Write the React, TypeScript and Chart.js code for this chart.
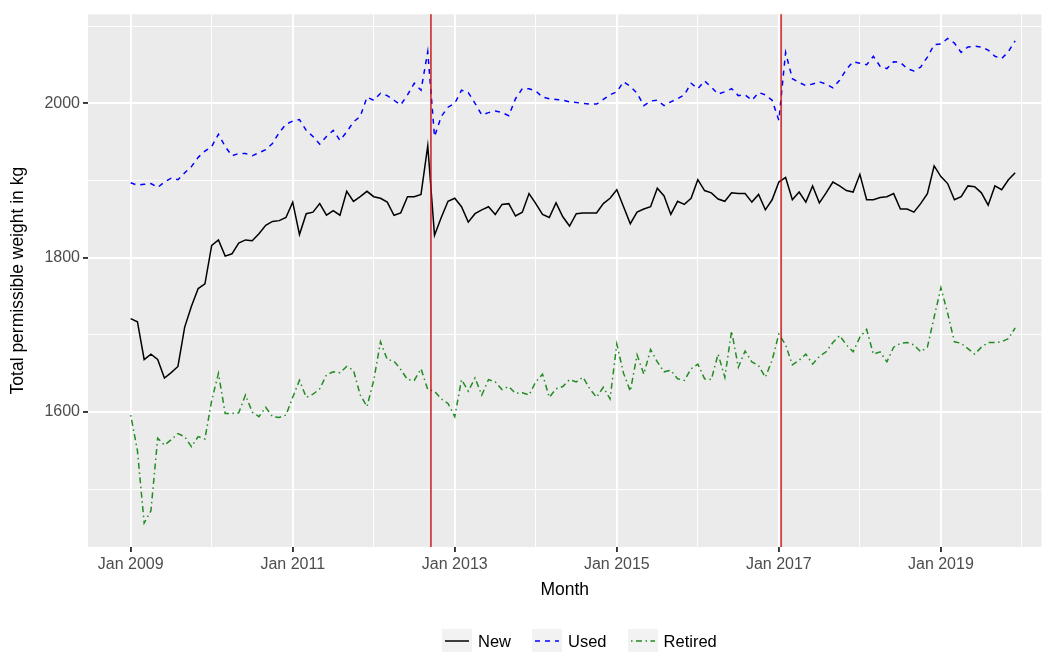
import React, { useEffect, useRef } from "react";
import { Chart, registerables } from "chart.js";

Chart.register(...registerables);

// Months since Jan 2009 (0 = Jan 2009, 131 = Dec 2019)
const NEW = [
  1721, 1717, 1668, 1675, 1668, 1644, 1651, 1659, 1710, 1737, 1760, 1766,
  1816, 1823, 1802, 1805, 1819, 1823, 1822, 1831, 1842, 1847, 1848, 1852,
  1872, 1830, 1857, 1859, 1870, 1855, 1861, 1855, 1886, 1873, 1879, 1886,
  1879, 1877, 1872, 1855, 1858, 1879, 1879, 1882, 1945, 1829, 1852, 1873,
  1877, 1866, 1846, 1857, 1862, 1866, 1856, 1869, 1870, 1854, 1859, 1883,
  1870, 1856, 1852, 1871, 1853, 1841, 1857, 1858, 1858, 1858, 1870, 1877,
  1888, 1866, 1844, 1859, 1863, 1866, 1890, 1880, 1856, 1873, 1869, 1877,
  1901, 1887, 1884, 1876, 1873, 1884, 1883, 1883, 1872, 1882, 1862, 1875,
  1898, 1904, 1875, 1885, 1872, 1893, 1871, 1884, 1898, 1893, 1887, 1885,
  1908, 1875, 1875, 1878, 1879, 1883, 1863, 1863, 1859, 1870, 1883, 1919,
  1905, 1896, 1875, 1879, 1893, 1892, 1884, 1868, 1893, 1888, 1901, 1910,
];

const USED = [
  1897, 1894, 1895, 1896, 1891, 1898, 1903, 1901, 1910, 1918, 1930, 1938,
  1944, 1960, 1944, 1932, 1935, 1935, 1932, 1936, 1940, 1948, 1962, 1973,
  1977, 1979, 1965, 1957, 1947, 1957, 1965, 1952, 1963, 1976, 1983, 2008,
  2004, 2013, 2010, 2004, 1998, 2011, 2026, 2017, 2067, 1957, 1983, 1995,
  2000, 2017, 2014, 2000, 1985, 1988, 1990, 1988, 1984, 2006, 2019, 2019,
  2016, 2008, 2006, 2005, 2004, 2002, 2001, 2000, 1999, 1999, 2005, 2011,
  2015, 2028, 2022, 2013, 1997, 2003, 2004, 1997, 2002, 2006, 2011, 2026,
  2019, 2029, 2021, 2012, 2015, 2019, 2010, 2011, 2004, 2014, 2011, 2004,
  1978, 2066, 2032, 2027, 2023, 2025, 2028, 2025, 2020, 2030, 2044, 2054,
  2052, 2050, 2061, 2048, 2045, 2054, 2053, 2045, 2042, 2047, 2060, 2076,
  2077, 2084, 2078, 2066, 2073, 2074, 2073, 2069, 2061, 2058, 2067, 2081,
];

const RETIRED = [
  1596, 1550, 1456, 1472, 1566, 1557, 1564, 1572, 1568, 1555, 1568, 1565,
  1615, 1650, 1598, 1598, 1599, 1622, 1600, 1594, 1606, 1594, 1593, 1596,
  1619, 1641, 1619, 1623, 1630, 1648, 1652, 1651, 1659, 1654, 1622, 1607,
  1641, 1691, 1668, 1666, 1655, 1642, 1641, 1656, 1629, 1627, 1617, 1611,
  1594, 1642, 1627, 1644, 1622, 1642, 1639, 1629, 1633, 1624, 1625, 1622,
  1639, 1649, 1619, 1630, 1633, 1642, 1639, 1645, 1630, 1619, 1632, 1617,
  1688, 1650, 1627, 1674, 1649, 1681, 1665, 1652, 1654, 1643, 1641, 1656,
  1662, 1643, 1642, 1675, 1645, 1705, 1658, 1679, 1665, 1660, 1645, 1667,
  1701, 1687, 1661, 1667, 1675, 1662, 1672, 1678, 1690, 1699, 1687, 1678,
  1697, 1707, 1675, 1678, 1665, 1684, 1689, 1690, 1687, 1678, 1684, 1723,
  1761, 1728, 1691, 1689, 1682, 1675, 1684, 1690, 1690, 1691, 1695, 1709,
];

// Intervention dates, in months since Jan 2009 (mid-Sep 2012, early Jan 2017)
const INTERVENTIONS = [44.47, 96.34];

const X_TICK_LABELS = ["Jan 2009", "Jan 2011", "Jan 2013", "Jan 2015", "Jan 2017", "Jan 2019"];
const X_GRID_MONTHS = [0, 12, 24, 36, 48, 60, 72, 84, 96, 108, 120, 132];
const Y_TICK_LABELS = [1600, 1800, 2000];
const Y_GRID_VALUES = [1500, 1600, 1700, 1800, 1900, 2000, 2100];

const SERIES_NAMES = ["New", "Used", "Retired"];
const SERIES_COLORS = ["#000000", "#0000FF", "#228B22"];
const SERIES_DASH: number[][] = [[], [5, 5], [1.5, 3.5, 6, 3.5]];

const FONT = "'Liberation Sans', Arial, sans-serif";
const W = 1051;
const H = 652;

const panelPlugin = {
  id: "panelBg",
  beforeDraw(chart: any) {
    const { ctx, chartArea } = chart;
    ctx.save();
    ctx.fillStyle = "#FFFFFF";
    ctx.fillRect(0, 0, chart.width, chart.height);
    ctx.fillStyle = "#EBEBEB";
    ctx.fillRect(chartArea.left, chartArea.top, chartArea.right - chartArea.left, chartArea.bottom - chartArea.top);
    ctx.restore();
  },
};

const vlinePlugin = {
  id: "vlines",
  afterDatasetsDraw(chart: any) {
    const { ctx, chartArea, scales } = chart;
    ctx.save();
    ctx.strokeStyle = "rgba(200, 20, 20, 0.8)";
    ctx.lineWidth = 1.8;
    INTERVENTIONS.forEach((m) => {
      const x = scales.x.getPixelForValue(m);
      ctx.beginPath();
      ctx.moveTo(x, chartArea.top);
      ctx.lineTo(x, chartArea.bottom);
      ctx.stroke();
    });
    ctx.restore();
  },
};

function LegendKey({ color, dash }: { color: string; dash: number[] }) {
  return (
    <svg width={30} height={24} style={{ display: "block" }}>
      <rect x={0} y={0} width={30} height={24} fill="#F2F2F2" />
      <line x1={3} y1={12} x2={27} y2={12} stroke={color} strokeWidth={1.5}
        strokeDasharray={dash.length ? dash.join(" ") : undefined} />
    </svg>
  );
}

export default function App() {
  const canvasRef = useRef<HTMLCanvasElement | null>(null);

  useEffect(() => {
    if (!canvasRef.current) return;
    const seriesValues = [NEW, USED, RETIRED];
    const chart = new Chart(canvasRef.current, {
      type: "line",
      data: {
        datasets: seriesValues.map((vals, s) => ({
          label: SERIES_NAMES[s],
          data: vals.map((v, i) => ({ x: i, y: v })),
          borderColor: SERIES_COLORS[s],
          borderWidth: 1.5,
          borderDash: SERIES_DASH[s],
          pointRadius: 0,
          tension: 0,
          fill: false,
        })),
      },
      options: {
        animation: false,
        responsive: false,
        events: [],
        layout: { padding: { top: 14.3, right: 9.5, left: 0, bottom: 0 } },
        plugins: {
          legend: { display: false },
          tooltip: { enabled: false },
        },
        scales: {
          x: {
            type: "linear",
            min: -6.32,
            max: 134.9,
            afterBuildTicks: (scale: any) => {
              scale.ticks = X_GRID_MONTHS.map((v) => ({ value: v }));
            },
            afterFit: (scale: any) => {
              scale.height = H - 547;
            },
            ticks: {
              autoSkip: false,
              maxRotation: 0,
              color: "#4D4D4D",
              font: { family: FONT, size: 16 },
              padding: 3,
              callback: (v: any) => (Number(v) % 24 === 0 ? X_TICK_LABELS[Number(v) / 24] : ""),
            },
            grid: {
              color: "#FFFFFF",
              lineWidth: (ctx: any) => (ctx.tick && ctx.tick.value % 24 === 0 ? 1.9 : 0.95),
              tickColor: (ctx: any) => (ctx.tick && ctx.tick.value % 24 === 0 ? "#333333" : "rgba(0,0,0,0)"),
              tickWidth: 1.9,
              tickLength: 5,
            },
            border: { display: false },
            title: {
              display: true,
              text: "Month",
              color: "#000000",
              font: { family: FONT, size: 17.5 },
              padding: { top: 0, bottom: 652 - 590 - 10.5 },
            },
          },
          y: {
            type: "linear",
            min: 1425,
            max: 2115.4,
            afterBuildTicks: (scale: any) => {
              scale.ticks = Y_GRID_VALUES.map((v) => ({ value: v }));
            },
            afterFit: (scale: any) => {
              scale.width = 88;
            },
            ticks: {
              autoSkip: false,
              color: "#4D4D4D",
              font: { family: FONT, size: 16 },
              padding: 3,
              callback: (v: any) => (Y_TICK_LABELS.includes(Number(v)) ? String(v) : ""),
            },
            grid: {
              color: "#FFFFFF",
              lineWidth: (ctx: any) => (ctx.tick && Y_TICK_LABELS.includes(ctx.tick.value) ? 1.9 : 0.95),
              tickColor: (ctx: any) => (ctx.tick && Y_TICK_LABELS.includes(ctx.tick.value) ? "#333333" : "rgba(0,0,0,0)"),
              tickWidth: 1.9,
              tickLength: 5,
            },
            border: { display: false },
            title: {
              display: true,
              text: "Total permissible weight in kg",
              color: "#000000",
              font: { family: FONT, size: 17.5 },
              padding: { top: 7.5, bottom: 0 },
            },
          },
        },
      },
      plugins: [panelPlugin, vlinePlugin],
    } as any);
    return () => chart.destroy();
  }, []);

  return (
    <div style={{ position: "fixed", left: 0, top: 0, width: W, height: H, background: "#FFFFFF", fontFamily: FONT }}>
      <canvas ref={canvasRef} width={W} height={H} style={{ width: W, height: H, display: "block" }} />
      <div
        style={{
          position: "absolute",
          left: 442,
          top: 629,
          height: 24,
          display: "flex",
          alignItems: "center",
          fontSize: 16.5,
          color: "#000000",
        }}
      >
        {SERIES_NAMES.map((name, s) => (
          <div key={name} style={{ display: "flex", alignItems: "center", marginLeft: s === 0 ? 0 : 21 }}>
            <LegendKey color={SERIES_COLORS[s]} dash={SERIES_DASH[s]} />
            <span style={{ marginLeft: 6 }}>{name}</span>
          </div>
        ))}
      </div>
    </div>
  );
}
